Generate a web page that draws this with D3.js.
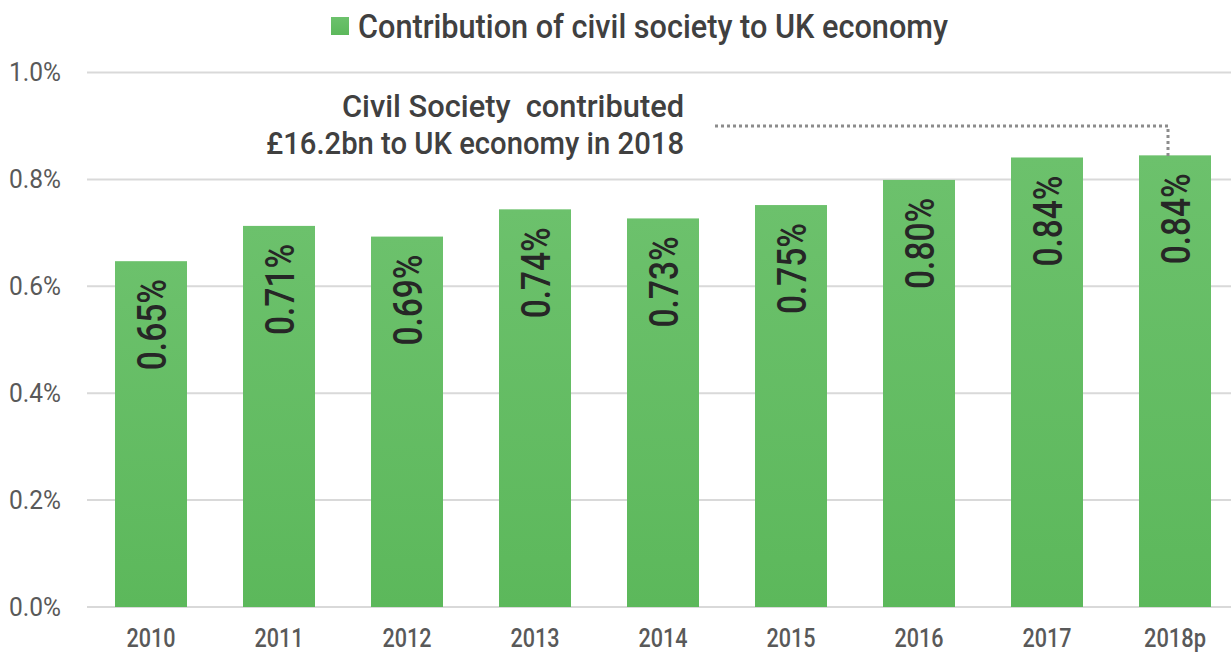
<!DOCTYPE html>
<html>
<head>
<meta charset="utf-8">
<script src="https://cdn.jsdelivr.net/npm/d3@7"></script>
<style>
  html, body { margin: 0; padding: 0; background: #fff; }
  svg { display: block; font-family: Roboto, "DejaVu Sans", sans-serif; }
</style>
</head>
<body>
<svg id="chart" width="1231" height="655"></svg>
<script>
const years = ['2010', '2011', '2012', '2013', '2014', '2015', '2016', '2017', '2018p'];
const share = [0.647, 0.713, 0.693, 0.744, 0.727, 0.752, 0.799, 0.841, 0.845];
const shareLabels = ['0.65%', '0.71%', '0.69%', '0.74%', '0.73%', '0.75%', '0.80%', '0.84%', '0.84%'];
const yTicks = [0, 0.2, 0.4, 0.6, 0.8, 1.0];
const legendText = 'Contribution of civil society to UK economy';
const noteLines = ['Civil Society  contributed', '£16.2bn to UK economy in 2018'];

const svg = d3.select('#chart');
const conf = { left: 87, right: 1239, top: 72.5, bottom: 607 };

const x = d3.scaleBand().domain(years).range([conf.left, conf.right])
  .paddingInner(0.4375).paddingOuter(0.21875);
const y = d3.scaleLinear().domain([0, 1.0]).range([conf.bottom, conf.top]);

const defs = svg.append('defs');
const grad = defs.append('linearGradient').attr('id', 'barGrad')
  .attr('x1', 0).attr('y1', 0).attr('x2', 0).attr('y2', 1);
grad.append('stop').attr('offset', '0%').attr('stop-color', '#6cc16c');
grad.append('stop').attr('offset', '100%').attr('stop-color', '#5cb85b');

// gridlines
svg.append('g').selectAll('line').data(yTicks).enter().append('line')
  .attr('x1', conf.left).attr('x2', 1231)
  .attr('y1', d => y(d)).attr('y2', d => y(d))
  .attr('stroke', '#d9d9d9').attr('stroke-width', 2);

// y tick labels
svg.append('g').selectAll('text').data(yTicks).enter().append('text')
  .text(d => d.toFixed(1) + '%')
  .attr('x', 61).attr('y', d => y(d))
  .attr('text-anchor', 'end').attr('dominant-baseline', 'central')
  .attr('font-size', 25).attr('fill', '#595959')
  .attr('textLength', 52).attr('lengthAdjust', 'spacingAndGlyphs');

// bars
svg.append('g').selectAll('rect').data(share).enter().append('rect')
  .attr('x', (d, i) => x(years[i])).attr('width', x.bandwidth())
  .attr('y', d => y(d)).attr('height', d => y(0) - y(d))
  .attr('fill', 'url(#barGrad)');

// bar value labels (rotated)
svg.append('g').selectAll('text').data(share).enter().append('text')
  .text((d, i) => shareLabels[i])
  .attr('transform', (d, i) => 'translate(' + (x(years[i]) + x.bandwidth() / 2 + 1) + ',' + (y(d) + 18) + ') rotate(-90)')
  .attr('text-anchor', 'end').attr('dominant-baseline', 'central')
  .attr('font-size', 40).attr('font-weight', 500).attr('fill', '#262626')
  .attr('textLength', 91).attr('lengthAdjust', 'spacingAndGlyphs');

// x labels
svg.append('g').selectAll('text').data(years).enter().append('text')
  .text(d => d)
  .attr('x', d => x(d) + x.bandwidth() / 2).attr('y', 647)
  .attr('text-anchor', 'middle')
  .attr('font-size', 25).attr('font-weight', 500).attr('fill', '#595959')
  .attr('textLength', d => d.length === 4 ? 49 : 62).attr('lengthAdjust', 'spacingAndGlyphs');

// legend
const legend = svg.append('g');
legend.append('rect').attr('x', 331).attr('y', 17).attr('width', 18).attr('height', 18)
  .attr('fill', 'url(#barGrad)');
legend.append('text').text(legendText)
  .attr('x', 358).attr('y', 38)
  .attr('font-size', 33).attr('font-weight', 500).attr('fill', '#404040')
  .attr('textLength', 590).attr('lengthAdjust', 'spacingAndGlyphs');

// annotation
const note = svg.append('g');
note.selectAll('text').data(noteLines).enter().append('text')
  .text(d => d)
  .style('white-space', 'pre')
  .attr('x', 684).attr('y', (d, i) => 117 + i * 37)
  .attr('text-anchor', 'end')
  .attr('font-size', 32).attr('font-weight', 500).attr('fill', '#404040')
  .attr('textLength', (d, i) => i === 0 ? 342 : 418).attr('lengthAdjust', 'spacingAndGlyphs');

const last = years.length - 1;
const lx = x(years[last]) + x.bandwidth() / 2 - 7;
note.append('path')
  .attr('d', 'M715,126 H' + lx + ' V' + (y(share[last]) + 2))
  .attr('fill', 'none').attr('stroke', '#8c8c8c').attr('stroke-width', 3)
  .attr('stroke-dasharray', '3,3');
</script>
</body>
</html>
